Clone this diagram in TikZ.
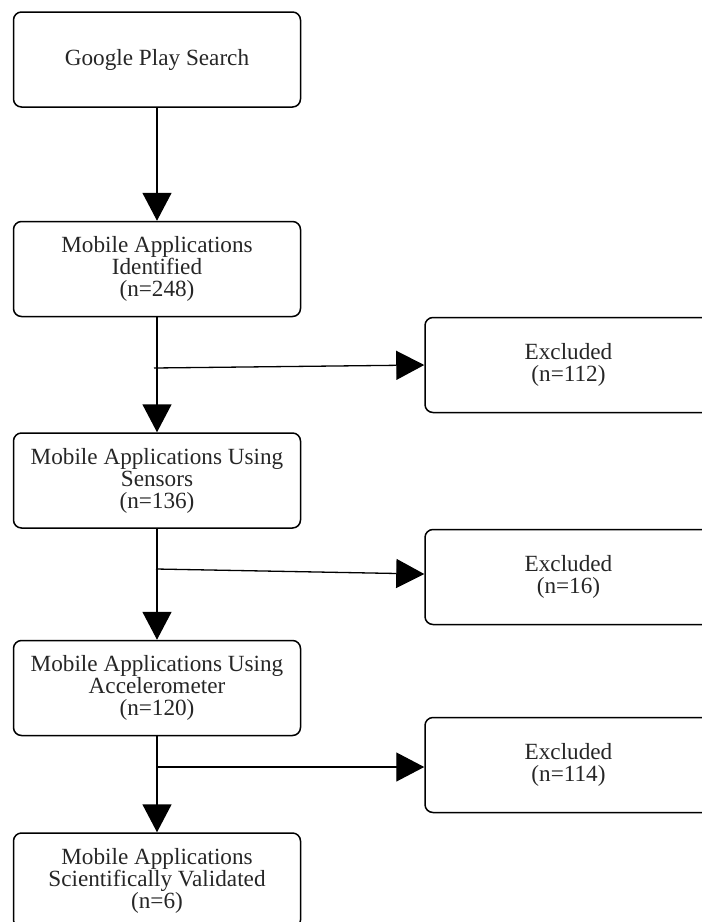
\documentclass[tikz,border=0pt]{standalone}
\usepackage{fontspec}
\setmainfont{Liberation Serif}
\usetikzlibrary{arrows.meta}
\tikzset{
  box/.style={draw=black, line width=1.5pt, rounded corners=8pt, rectangle,
    minimum width=287pt, minimum height=95pt, align=center, inner sep=0pt,
    font=\fontsize{23.2}{22}\selectfont, text=black!85},
  flow/.style={draw=black, line width=1.6pt, -{Triangle[length=28pt,width=29pt]}},
}
\begin{document}
\begin{tikzpicture}[x=1pt,y=-1pt]
\useasboundingbox (0,0) rectangle (702,922);
\clip (0,0) rectangle (702,922);
\node[box] (A) at (157,59.5) {Google Play Search};
\node[box] (B) at (157,269) {Mobile Applications\\Identified\\(n=248)};
\node[box] (C) at (157,480.5) {Mobile Applications Using\\Sensors\\(n=136)};
\node[box] (D) at (157,688) {Mobile Applications Using\\Accelerometer\\(n=120)};
\node[box] (E) at (157,880.5) {Mobile Applications\\Scientifically Validated\\(n=6)};
\node[box] (R1) at (568.5,365) {Excluded\\(n=112)};
\node[box] (R2) at (568.5,577) {Excluded\\(n=16)};
\node[box] (R3) at (568.5,765) {Excluded\\(n=114)};
\draw[flow] (A) -- (B);
\draw[flow] (B) -- (C);
\draw[flow] (C) -- (D);
\draw[flow] (D) -- (E);
\coordinate (j1) at (154,368);
\coordinate (j2) at (156,569);
\coordinate (j3) at (156,767);
\draw[flow, line width=1.3pt] (j1) -- (R1.west);
\draw[flow, line width=1.3pt] (j2) -- ([yshift=3pt]R2.west);
\draw[flow, line width=1.3pt] (j3) -- ([yshift=-2pt]R3.west);
\end{tikzpicture}
\end{document}
